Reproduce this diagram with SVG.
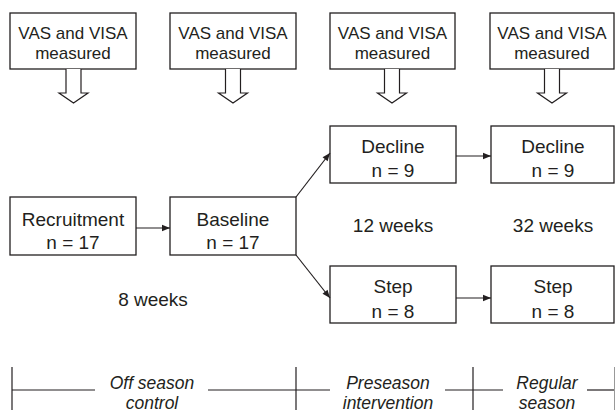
<svg xmlns="http://www.w3.org/2000/svg" width="615" height="414" viewBox="0 0 615 414">
<style>
.box{fill:#fff;stroke:#231f20;stroke-width:1.3}
.blk{fill:#fff;stroke:#231f20;stroke-width:1.2}
.t{font-family:"Liberation Sans",Arial,sans-serif;font-size:19px;fill:#231f20;text-anchor:middle}
.ts{font-family:"Liberation Sans",Arial,sans-serif;font-size:17px;fill:#231f20;text-anchor:middle}
.ti{font-family:"Liberation Sans",Arial,sans-serif;font-size:17.5px;font-style:italic;fill:#231f20;text-anchor:middle}
.ln{stroke:#231f20;stroke-width:1.2;fill:none}
</style>
<defs>
<marker id="ah" viewBox="0 0 10 10" refX="10" refY="5" markerWidth="10" markerHeight="8" markerUnits="userSpaceOnUse" orient="auto">
<path d="M0,1 L10,5 L0,9 Z" fill="#231f20"/>
</marker>
</defs>
<rect width="615" height="414" fill="#fff"/>

<g id="vas1">
<rect class="box" x="10" y="13" width="126" height="56"/>
<path class="blk" d="M66,69 V93 H59 L73.5,103 L88,93 H81 V69"/>
<text class="ts" x="73" y="39">VAS and VISA</text>
<text class="ts" x="73" y="59">measured</text>
</g>
<g id="vas2">
<rect class="box" x="170" y="13" width="126" height="56"/>
<path class="blk" d="M225.5,69 V93 H218.5 L233,103 L247.5,93 H240.5 V69"/>
<text class="ts" x="233" y="39">VAS and VISA</text>
<text class="ts" x="233" y="59">measured</text>
</g>
<g id="vas3">
<rect class="box" x="330" y="13" width="125" height="56"/>
<path class="blk" d="M384.5,69 V93 H377.5 L392,103 L406.5,93 H399.5 V69"/>
<text class="ts" x="392.5" y="39">VAS and VISA</text>
<text class="ts" x="392.5" y="59">measured</text>
</g>
<g id="vas4">
<rect class="box" x="490" y="13" width="124" height="56"/>
<path class="blk" d="M544.5,69 V93 H537.5 L552,103 L566.5,93 H559.5 V69"/>
<text class="ts" x="552" y="39">VAS and VISA</text>
<text class="ts" x="552" y="59">measured</text>
</g>

<g id="recruitment">
<rect class="box" x="10" y="197" width="126" height="58"/>
<text class="t" x="73" y="226">Recruitment</text>
<text class="t" x="73" y="249">n = 17</text>
</g>
<g id="baseline">
<rect class="box" x="170" y="197" width="126" height="58"/>
<text class="t" x="233" y="226">Baseline</text>
<text class="t" x="233" y="249">n = 17</text>
</g>
<g id="decline1">
<rect class="box" x="330" y="126" width="126" height="57"/>
<text class="t" x="393" y="153">Decline</text>
<text class="t" x="393" y="177">n = 9</text>
</g>
<g id="decline2">
<rect class="box" x="491" y="126" width="123" height="57"/>
<text class="t" x="553" y="153">Decline</text>
<text class="t" x="553" y="177">n = 9</text>
</g>
<g id="step1">
<rect class="box" x="330" y="266" width="126" height="57"/>
<text class="t" x="393" y="293">Step</text>
<text class="t" x="393" y="318">n = 8</text>
</g>
<g id="step2">
<rect class="box" x="491" y="266" width="123" height="57"/>
<text class="t" x="553" y="293">Step</text>
<text class="t" x="553" y="318">n = 8</text>
</g>

<g id="connectors">
<line class="ln" x1="136" y1="228" x2="170" y2="228" marker-end="url(#ah)"/>
<line class="ln" x1="296" y1="197" x2="330" y2="153" marker-end="url(#ah)"/>
<line class="ln" x1="296" y1="255" x2="330" y2="298" marker-end="url(#ah)"/>
<line class="ln" x1="456" y1="156" x2="491" y2="156" marker-end="url(#ah)"/>
<line class="ln" x1="456" y1="298" x2="491" y2="298" marker-end="url(#ah)"/>
</g>

<g id="labels">
<text class="t" x="153" y="306">8 weeks</text>
<text class="t" x="393" y="232">12 weeks</text>
<text class="t" x="553" y="232">32 weeks</text>
</g>

<g id="timeline">
<line class="ln" x1="12" y1="367" x2="12" y2="410"/>
<line class="ln" x1="296" y1="367" x2="296" y2="410"/>
<line class="ln" x1="473" y1="367" x2="473" y2="410"/>
<line x1="614.5" y1="367" x2="614.5" y2="410" stroke="#999" stroke-width="1"/>
<line class="ln" x1="12" y1="390" x2="95" y2="390"/>
<line class="ln" x1="208" y1="390" x2="330" y2="390"/>
<line class="ln" x1="445" y1="390" x2="503" y2="390"/>
<line class="ln" x1="587" y1="390" x2="614" y2="390"/>
<text class="ti" x="152" y="389">Off season</text>
<text class="ti" x="152" y="409">control</text>
<text class="ti" x="388" y="389">Preseason</text>
<text class="ti" x="388" y="409">intervention</text>
<text class="ti" x="547" y="389">Regular</text>
<text class="ti" x="547" y="409">season</text>
</g>
</svg>
